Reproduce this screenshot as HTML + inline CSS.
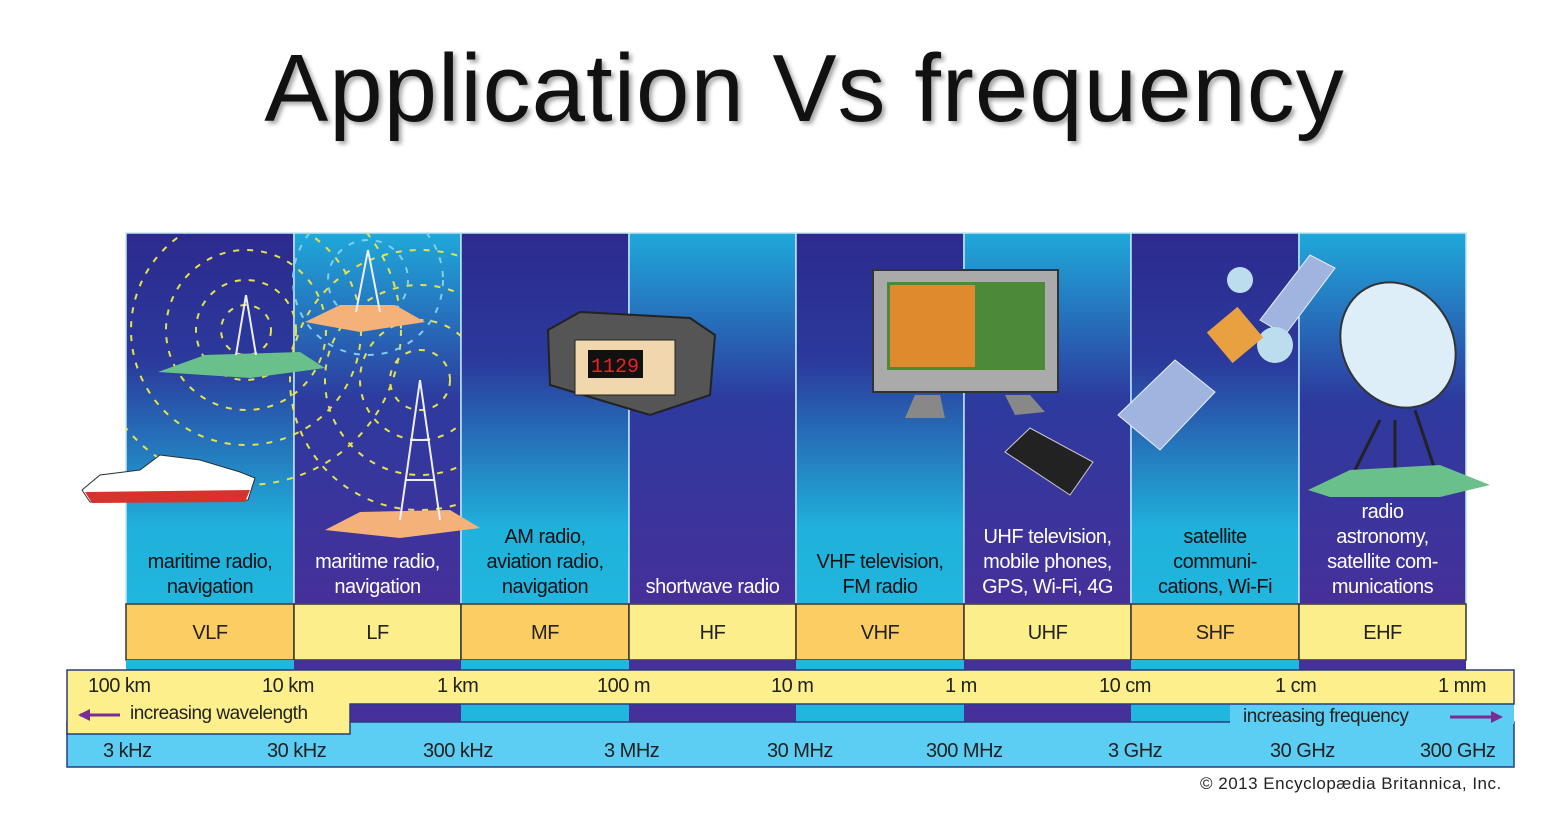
<!DOCTYPE html>
<html><head><style>
body{margin:0;width:1555px;height:828px;background:#fff;position:relative;overflow:hidden;font-family:"Liberation Sans",sans-serif}
.t{position:absolute;left:0;width:1555px;padding-left:54px;box-sizing:border-box;top:34px;text-align:center;font-size:96px;color:#111;text-shadow:3px 3px 4px rgba(0,0,0,.35);letter-spacing:1px}
.a{position:absolute;font-size:20px;text-align:center;line-height:25px;letter-spacing:-0.5px}
.n{position:absolute;font-size:20px;letter-spacing:-0.5px;color:#222}
</style></head><body>
<div class="t">Application Vs frequency</div>
<svg width="1555" height="828" style="position:absolute;left:0;top:0">
<defs>
<linearGradient id="g1" x1="0" y1="0" x2="0" y2="1"><stop offset="0" stop-color="#2d2a8e"/><stop offset=".35" stop-color="#2b3a9c"/><stop offset=".8" stop-color="#1fb2dc"/><stop offset="1" stop-color="#20b6de"/></linearGradient>
<linearGradient id="g2" x1="0" y1="0" x2="0" y2="1"><stop offset="0" stop-color="#1fa9da"/><stop offset=".45" stop-color="#2d3a9e"/><stop offset="1" stop-color="#46309a"/></linearGradient>
<clipPath id="cp"><rect x="126" y="233" width="335" height="371"/></clipPath>
</defs>
<g stroke="#bfe8f5" stroke-width="1.5">
<rect x="126" y="233" width="168" height="371" fill="url(#g1)"/>
<rect x="294" y="233" width="167" height="371" fill="url(#g2)"/>
<rect x="461" y="233" width="168" height="371" fill="url(#g1)"/>
<rect x="629" y="233" width="167" height="371" fill="url(#g2)"/>
<rect x="796" y="233" width="168" height="371" fill="url(#g1)"/>
<rect x="964" y="233" width="167" height="371" fill="url(#g2)"/>
<rect x="1131" y="233" width="168" height="371" fill="url(#g1)"/>
<rect x="1299" y="233" width="167" height="371" fill="url(#g2)"/>
</g>
<g clip-path="url(#cp)">
<g fill="none" stroke="#e6e24a" stroke-width="2" stroke-dasharray="6 8">
<circle cx="246" cy="330" r="25"/><circle cx="246" cy="330" r="50"/><circle cx="246" cy="330" r="80"/><circle cx="246" cy="330" r="115"/><circle cx="246" cy="330" r="155"/>
<circle cx="420" cy="380" r="30"/><circle cx="420" cy="380" r="60"/><circle cx="420" cy="380" r="95"/><circle cx="420" cy="380" r="130"/>
</g>
<g fill="none" stroke="#7fd0f0" stroke-width="2" stroke-dasharray="6 8"><circle cx="368" cy="280" r="40"/><circle cx="368" cy="280" r="75"/></g>
</g>
<path d="M158 372 L205 355 L300 352 L325 368 L250 378 Z" fill="#69c08a"/>
<path d="M305 322 L340 305 L395 305 L425 322 L360 332 Z" fill="#f4b27a"/>
<path d="M325 530 L360 512 L450 510 L480 528 L400 538 Z" fill="#f4b27a"/>
<g stroke="#eef" stroke-width="2" fill="none"><path d="M246 295 L236 355 M246 295 L256 355"/><path d="M368 250 L356 312 M368 250 L380 312"/><path d="M420 380 L400 520 M420 380 L440 520 M405 480 L435 480 M410 440 L430 440"/></g>
<path d="M82 490 L100 475 L140 470 L160 455 L200 460 L240 472 L255 478 L248 500 L90 502 Z" fill="#fff" stroke="#233" stroke-width="1"/>
<path d="M85 492 L250 490 L245 502 L92 503 Z" fill="#d8322c"/>
<path d="M548 330 L580 312 L690 318 L715 335 L710 395 L650 415 L550 385 Z" fill="#555" stroke="#222" stroke-width="2"/>
<rect x="575" y="340" width="100" height="55" fill="#f0d7ad" stroke="#222"/>
<rect x="588" y="350" width="55" height="28" fill="#111"/>
<text x="591" y="372" fill="#e22" font-size="20" font-family="Liberation Mono">1129</text>
<rect x="873" y="270" width="185" height="122" fill="#aaa" stroke="#333" stroke-width="2"/>
<rect x="887" y="282" width="158" height="88" fill="#4c8a3a"/>
<rect x="890" y="285" width="85" height="82" fill="#e08a2e"/>
<path d="M915 395 L905 418 L945 418 L940 395 Z M1005 395 L1015 415 L1045 412 L1030 395Z" fill="#888"/>
<path d="M1005 452 L1030 428 L1093 462 L1070 495 Z" fill="#222" stroke="#ccc"/>
<path d="M1118 415 L1175 360 L1215 392 L1160 450 Z" fill="#a0b4e0" stroke="#eee"/>
<path d="M1260 320 L1310 255 L1335 268 L1285 335 Z" fill="#a0b4e0" stroke="#eee"/>
<circle cx="1240" cy="280" r="13" fill="#bde"/><circle cx="1275" cy="345" r="18" fill="#bde"/>
<rect x="1215" y="315" width="40" height="40" fill="#e8a040" transform="rotate(-40 1235 335)"/>
<ellipse cx="1398" cy="345" rx="55" ry="65" fill="#ddeef9" stroke="#333" stroke-width="2" transform="rotate(-30 1398 345)"/>
<path d="M1380 420 L1355 470 M1415 410 L1435 470 M1395 420 L1395 470" stroke="#222" stroke-width="3"/>
<path d="M1308 490 L1350 470 L1440 465 L1490 485 L1440 497 L1330 497 Z" fill="#69c08a"/>
<g stroke="#333" stroke-width="1.5">
<rect x="126" y="604" width="168" height="56" fill="#fccd63"/>
<rect x="294" y="604" width="167" height="56" fill="#fcee8a"/>
<rect x="461" y="604" width="168" height="56" fill="#fccd63"/>
<rect x="629" y="604" width="167" height="56" fill="#fcee8a"/>
<rect x="796" y="604" width="168" height="56" fill="#fccd63"/>
<rect x="964" y="604" width="167" height="56" fill="#fcee8a"/>
<rect x="1131" y="604" width="168" height="56" fill="#fccd63"/>
<rect x="1299" y="604" width="167" height="56" fill="#fcee8a"/>
</g>
<g>
<rect x="126" y="660" width="168" height="62" fill="#20b6de"/><rect x="294" y="660" width="167" height="62" fill="#46309a"/>
<rect x="461" y="660" width="168" height="62" fill="#20b6de"/><rect x="629" y="660" width="167" height="62" fill="#46309a"/>
<rect x="796" y="660" width="168" height="62" fill="#20b6de"/><rect x="964" y="660" width="167" height="62" fill="#46309a"/>
<rect x="1131" y="660" width="168" height="62" fill="#20b6de"/><rect x="1299" y="660" width="167" height="62" fill="#46309a"/>
</g>
<rect x="67" y="722" width="1447" height="45" fill="#5ccdf3" stroke="#2a3b80" stroke-width="1.5"/>
<rect x="1230" y="704" width="284" height="20" fill="#5ccdf3"/>
<path d="M67 670 L1514 670 L1514 704 L350 704 L350 734 L67 734 Z" fill="#fdf08c" stroke="#2a3b80" stroke-width="1.5"/>
<path d="M80 715 L120 715" stroke="#7a2c96" stroke-width="3"/><path d="M78 715 L90 709 L90 721Z" fill="#7a2c96"/>
<path d="M1450 717 L1495 717" stroke="#7a2c96" stroke-width="3"/><path d="M1503 717 L1491 711 L1491 723Z" fill="#7a2c96"/>
</svg>
<div class="a" style="left:126px;width:168px;top:550px;color:#111">maritime radio,<br>navigation</div>
<div class="a" style="left:294px;width:167px;top:550px;color:#fff">maritime radio,<br>navigation</div>
<div class="a" style="left:461px;width:168px;top:525px;color:#111">AM radio,<br>aviation radio,<br>navigation</div>
<div class="a" style="left:629px;width:167px;top:575px;color:#fff">shortwave radio</div>
<div class="a" style="left:796px;width:168px;top:550px;color:#111">VHF television,<br>FM radio</div>
<div class="a" style="left:964px;width:167px;top:525px;color:#fff">UHF television,<br>mobile phones,<br>GPS, Wi-Fi, 4G</div>
<div class="a" style="left:1131px;width:168px;top:525px;color:#111">satellite<br>communi-<br>cations, Wi-Fi</div>
<div class="a" style="left:1299px;width:167px;top:500px;color:#fff">radio<br>astronomy,<br>satellite com-<br>munications</div>
<div class="a" style="left:126px;width:168px;top:621px;color:#222">VLF</div>
<div class="a" style="left:294px;width:167px;top:621px;color:#222">LF</div>
<div class="a" style="left:461px;width:168px;top:621px;color:#222">MF</div>
<div class="a" style="left:629px;width:167px;top:621px;color:#222">HF</div>
<div class="a" style="left:796px;width:168px;top:621px;color:#222">VHF</div>
<div class="a" style="left:964px;width:167px;top:621px;color:#222">UHF</div>
<div class="a" style="left:1131px;width:168px;top:621px;color:#222">SHF</div>
<div class="a" style="left:1299px;width:167px;top:621px;color:#222">EHF</div>
<div class="n" style="left:88px;top:675px">100 km</div>
<div class="n" style="left:262px;top:675px">10 km</div>
<div class="n" style="left:437px;top:675px">1 km</div>
<div class="n" style="left:597px;top:675px">100 m</div>
<div class="n" style="left:771px;top:675px">10 m</div>
<div class="n" style="left:945px;top:675px">1 m</div>
<div class="n" style="left:1099px;top:675px">10 cm</div>
<div class="n" style="left:1275px;top:675px">1 cm</div>
<div class="n" style="left:1438px;top:675px">1 mm</div>
<div class="n" style="left:130px;top:703px;font-size:19px">increasing wavelength</div>
<div class="n" style="left:1243px;top:706px;font-size:19px">increasing frequency</div>
<div class="n" style="left:103px;top:740px">3 kHz</div>
<div class="n" style="left:267px;top:740px">30 kHz</div>
<div class="n" style="left:423px;top:740px">300 kHz</div>
<div class="n" style="left:604px;top:740px">3 MHz</div>
<div class="n" style="left:767px;top:740px">30 MHz</div>
<div class="n" style="left:926px;top:740px">300 MHz</div>
<div class="n" style="left:1108px;top:740px">3 GHz</div>
<div class="n" style="left:1270px;top:740px">30 GHz</div>
<div class="n" style="left:1420px;top:740px">300 GHz</div>
<div class="n" style="left:1200px;top:774px;font-size:17px;letter-spacing:0.5px">© 2013 Encyclopædia Britannica, Inc.</div>
</body></html>
